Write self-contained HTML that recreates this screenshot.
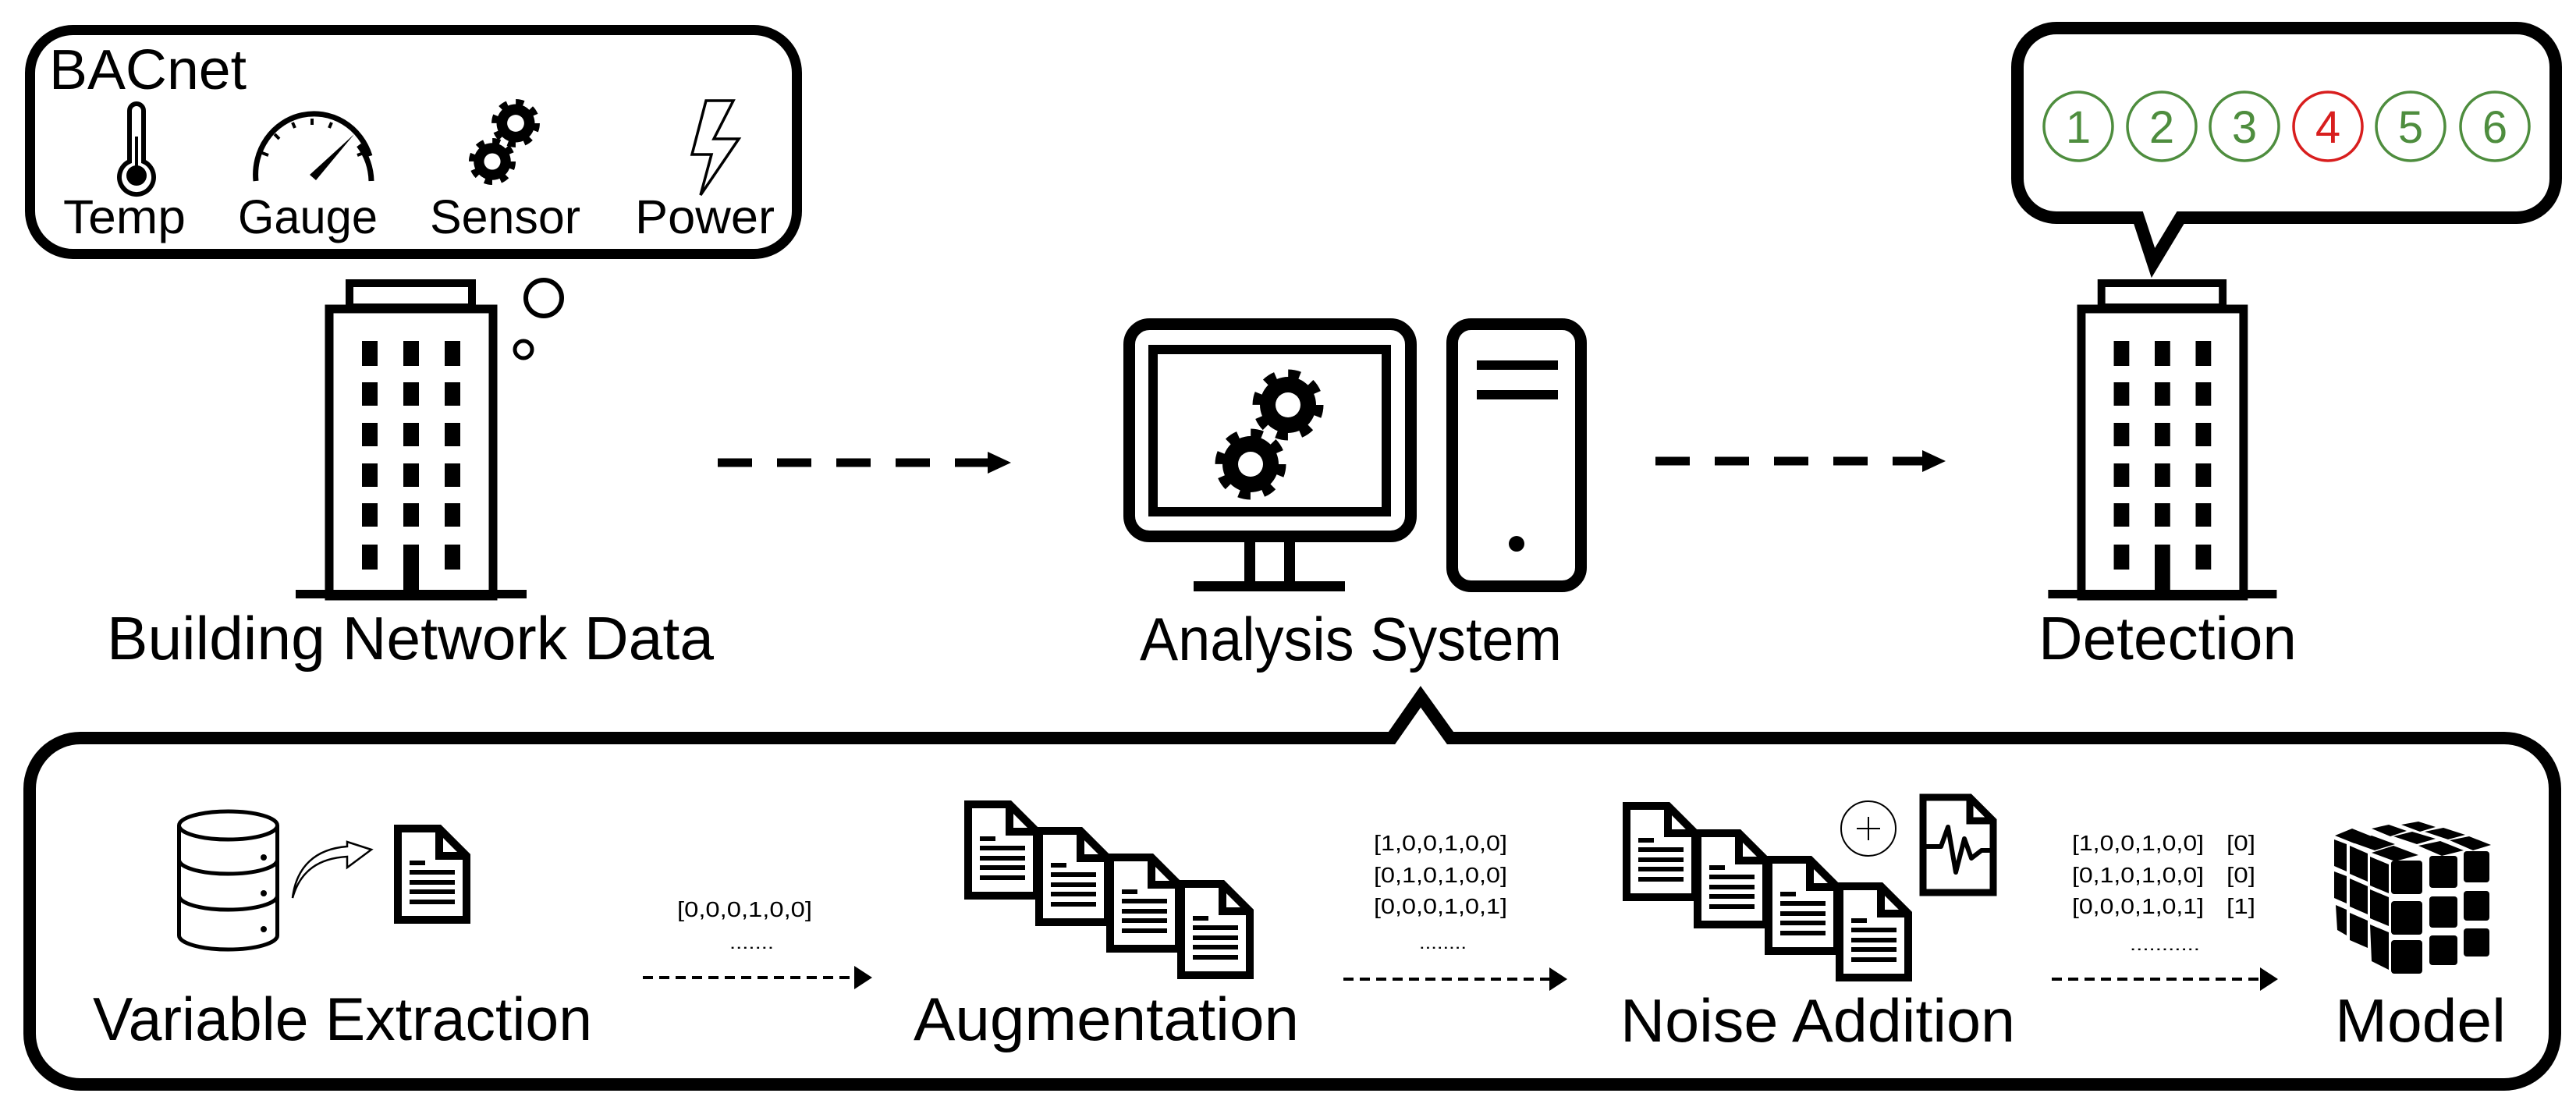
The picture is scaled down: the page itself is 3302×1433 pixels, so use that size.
<!DOCTYPE html>
<html><head><meta charset="utf-8"><style>
html,body{margin:0;padding:0;background:#fff;}
svg{display:block;}
text{font-family:"Liberation Sans",sans-serif;}
</style></head><body>
<svg width="3302" height="1433" viewBox="0 0 3302 1433" xmlns="http://www.w3.org/2000/svg">
<defs>
  <g id="doc">
    <path d="M5,5 H58 L93,40 V122 H5 Z" fill="#fff" stroke="#000" stroke-width="10" stroke-linejoin="miter"/>
    <path d="M58,5 V40 H93" fill="none" stroke="#000" stroke-width="10"/>
    <rect x="20" y="46" width="20" height="6"/>
    <rect x="20" y="58" width="58" height="6"/>
    <rect x="20" y="71" width="58" height="6"/>
    <rect x="20" y="83" width="58" height="6"/>
    <rect x="20" y="96" width="58" height="6"/>
  </g>
  <g id="bldg">
    <rect x="31" y="5" width="157" height="33" fill="none" stroke="#000" stroke-width="10"/>
    <rect x="5" y="38" width="210" height="368" fill="#fff" stroke="#000" stroke-width="11"/>
    <rect x="31" y="31" width="157" height="7" fill="#000"/>
    <rect x="-38" y="398" width="296" height="11"/>
    <g fill="#000">
      <rect x="47" y="79" width="20" height="32"/><rect x="100" y="79" width="20" height="32"/><rect x="153" y="79" width="20" height="32"/>
      <rect x="47" y="132" width="20" height="30"/><rect x="100" y="132" width="20" height="30"/><rect x="153" y="132" width="20" height="30"/>
      <rect x="47" y="184" width="20" height="30"/><rect x="100" y="184" width="20" height="30"/><rect x="153" y="184" width="20" height="30"/>
      <rect x="47" y="236" width="20" height="30"/><rect x="100" y="236" width="20" height="30"/><rect x="153" y="236" width="20" height="30"/>
      <rect x="47" y="287" width="20" height="30"/><rect x="100" y="287" width="20" height="30"/><rect x="153" y="287" width="20" height="30"/>
      <rect x="47" y="340" width="20" height="32"/><rect x="100" y="340" width="20" height="62"/><rect x="153" y="340" width="20" height="32"/>
    </g>
  </g>
  <g id="gear">
    <circle r="36" fill="#000"/>
    <circle r="40" fill="none" stroke="#000" stroke-width="11" stroke-dasharray="15 16.4"/>
    <circle r="16" fill="#fff"/>
  </g>
</defs>

<!-- BACnet box -->
<rect x="38.5" y="38.5" width="983" height="287" rx="55" fill="none" stroke="#000" stroke-width="13"/>
<text x="63" y="114" font-size="72" textLength="253" lengthAdjust="spacingAndGlyphs">BACnet</text>
<!-- thermometer -->
<path d="M166,207 V142 a9,9 0 0 1 18,0 V207 a22,22 0 1 1 -18,0 Z" fill="none" stroke="#000" stroke-width="6"/>
<circle cx="175" cy="225" r="13" fill="#000"/>
<rect x="173" y="175" width="4" height="45" fill="#000"/>
<!-- gauge -->
<path d="M328,232 A75,78 0 0 1 474,200" fill="none" stroke="#000" stroke-width="7"/>
<path d="M460,186 A75,78 0 0 1 476,232" fill="none" stroke="#000" stroke-width="7"/>
<g stroke="#000" stroke-width="4">
<line x1="336" y1="196" x2="344" y2="199"/><line x1="352" y1="172" x2="358" y2="178"/><line x1="375" y1="157" x2="378" y2="164"/><line x1="400" y1="152" x2="400" y2="160"/><line x1="425" y1="157" x2="422" y2="164"/><line x1="466" y1="196" x2="458" y2="199"/>
</g>
<path d="M454,172 L405,231 L397,224 Z" fill="#000"/>
<!-- gears small -->
<g transform="translate(661,158) scale(0.68)"><use href="#gear"/></g>
<g transform="translate(631,207) scale(0.66)"><use href="#gear"/></g>
<!-- lightning -->
<polygon points="905,129 940,129 915,178 947,178 898,250 912,198 887,198" fill="none" stroke="#000" stroke-width="3.5" stroke-linejoin="miter"/>
<text x="81" y="299" font-size="61" textLength="157" lengthAdjust="spacingAndGlyphs">Temp</text>
<text x="305" y="299" font-size="61" textLength="179" lengthAdjust="spacingAndGlyphs">Gauge</text>
<text x="551" y="299" font-size="61" textLength="193" lengthAdjust="spacingAndGlyphs">Sensor</text>
<text x="814" y="299" font-size="61" textLength="179" lengthAdjust="spacingAndGlyphs">Power</text>

<!-- left building -->
<g transform="translate(417,358)"><use href="#bldg"/></g>
<circle cx="697" cy="382" r="23" fill="none" stroke="#000" stroke-width="6"/>
<circle cx="671" cy="448" r="11" fill="none" stroke="#000" stroke-width="5"/>
<text x="137" y="845" font-size="78" textLength="778" lengthAdjust="spacingAndGlyphs">Building Network Data</text>

<!-- arrows top -->
<line x1="920" y1="593" x2="1270" y2="593" stroke="#000" stroke-width="11" stroke-dasharray="44 32"/>
<polygon points="1266,579 1296,593 1266,607" fill="#000"/>
<line x1="2122" y1="591" x2="2468" y2="591" stroke="#000" stroke-width="11" stroke-dasharray="44 32"/>
<polygon points="2464,577 2494,591 2464,605" fill="#000"/>

<!-- monitor -->
<rect x="1447.5" y="415.5" width="361" height="272" rx="26" fill="none" stroke="#000" stroke-width="15"/>
<rect x="1478" y="448" width="299" height="208" fill="none" stroke="#000" stroke-width="12"/>
<g transform="translate(1651,519)"><use href="#gear"/></g>
<g transform="translate(1603,595)"><use href="#gear"/></g>
<rect x="1595" y="695" width="14" height="52"/>
<rect x="1646" y="695" width="14" height="52"/>
<rect x="1530" y="745" width="194" height="13"/>
<!-- tower -->
<rect x="1861.5" y="415.5" width="165" height="336" rx="24" fill="none" stroke="#000" stroke-width="15"/>
<rect x="1893" y="462" width="104" height="12"/>
<rect x="1893" y="500" width="104" height="12"/>
<circle cx="1944" cy="697" r="10"/>
<text x="1461" y="846" font-size="78" textLength="541" lengthAdjust="spacingAndGlyphs">Analysis System</text>

<!-- detection bubble -->
<path d="M2636,36 H3226 A50,50 0 0 1 3276,86 V229 A50,50 0 0 1 3226,279 H2795 L2760,337 L2741,279 H2636 A50,50 0 0 1 2586,229 V86 A50,50 0 0 1 2636,36 Z" fill="none" stroke="#000" stroke-width="16" stroke-linejoin="miter"/>
<g fill="none" stroke-width="3.5">
<circle cx="2664" cy="162" r="44" stroke="#4e8d3e"/>
<circle cx="2771" cy="162" r="44" stroke="#4e8d3e"/>
<circle cx="2877" cy="162" r="44" stroke="#4e8d3e"/>
<circle cx="2984" cy="162" r="44" stroke="#d81e1e"/>
<circle cx="3090" cy="162" r="44" stroke="#4e8d3e"/>
<circle cx="3198" cy="162" r="44" stroke="#4e8d3e"/>
</g>
<g font-size="58" text-anchor="middle" fill="#4e8d3e">
<text x="2664" y="183">1</text><text x="2771" y="183">2</text><text x="2877" y="183">3</text>
<text x="2984" y="183" fill="#d81e1e">4</text><text x="3090" y="183">5</text><text x="3198" y="183">6</text>
</g>
<!-- right building -->
<g transform="translate(2663,358) scale(0.99,1)"><use href="#bldg"/></g>
<text x="2613" y="845" font-size="78" textLength="331" lengthAdjust="spacingAndGlyphs">Detection</text>

<!-- bottom box -->
<path d="M103,946 H1784 L1821,893 L1859,946 H3210 A65,65 0 0 1 3275,1011 V1325 A65,65 0 0 1 3210,1390 H103 A65,65 0 0 1 38,1325 V1011 A65,65 0 0 1 103,946 Z" fill="none" stroke="#000" stroke-width="16" stroke-linejoin="miter"/>

<!-- database -->
<g fill="none" stroke="#000" stroke-width="5">
<ellipse cx="292.5" cy="1058" rx="63" ry="18"/>
<path d="M229.5,1058 V1199 A63,18 0 0 0 355.5,1199 V1058"/>
<path d="M229.5,1102 A63,18 0 0 0 355.5,1102"/>
<path d="M229.5,1148 A63,18 0 0 0 355.5,1148"/>
</g>
<circle cx="338" cy="1099" r="4"/><circle cx="338" cy="1145" r="4"/><circle cx="338" cy="1191" r="4"/>
<!-- curved arrow -->
<path d="M375,1151 C385,1115 410,1100 445,1098 V1112 L476,1089 L445,1079 V1085 C405,1088 380,1110 375,1151 Z" fill="none" stroke="#000" stroke-width="2.5" stroke-linejoin="miter"/>
<g transform="translate(505,1057)"><use href="#doc"/></g>
<text x="868" y="1175" font-size="28" textLength="173" lengthAdjust="spacingAndGlyphs">[0,0,0,1,0,0]</text>
<text x="935" y="1216" font-size="22" textLength="57" lengthAdjust="spacingAndGlyphs">.......</text>
<line x1="824" y1="1253" x2="1100" y2="1253" stroke="#000" stroke-width="4" stroke-dasharray="13 8"/>
<polygon points="1095,1238 1118,1253 1095,1268" fill="#000"/>
<text x="119" y="1333" font-size="78" textLength="640" lengthAdjust="spacingAndGlyphs">Variable Extraction</text>

<!-- augmentation docs -->
<g transform="translate(1236,1026)"><use href="#doc"/></g>
<g transform="translate(1327,1060)"><use href="#doc"/></g>
<g transform="translate(1418,1094)"><use href="#doc"/></g>
<g transform="translate(1509,1128)"><use href="#doc"/></g>
<text x="1171" y="1333" font-size="78" textLength="494" lengthAdjust="spacingAndGlyphs">Augmentation</text>

<g font-size="28">
<text x="1761" y="1090" textLength="171" lengthAdjust="spacingAndGlyphs">[1,0,0,1,0,0]</text>
<text x="1761" y="1131" textLength="171" lengthAdjust="spacingAndGlyphs">[0,1,0,1,0,0]</text>
<text x="1761" y="1171" textLength="171" lengthAdjust="spacingAndGlyphs">[0,0,0,1,0,1]</text>
</g>
<text x="1819" y="1216" font-size="22" textLength="61" lengthAdjust="spacingAndGlyphs">........</text>
<line x1="1722" y1="1255" x2="1990" y2="1255" stroke="#000" stroke-width="4" stroke-dasharray="13 8"/>
<polygon points="1986,1240 2009,1255 1986,1270" fill="#000"/>

<!-- noise docs -->
<g transform="translate(2080,1028)"><use href="#doc"/></g>
<g transform="translate(2171,1063)"><use href="#doc"/></g>
<g transform="translate(2262,1097)"><use href="#doc"/></g>
<g transform="translate(2353,1131)"><use href="#doc"/></g>
<circle cx="2395" cy="1062" r="35" fill="none" stroke="#000" stroke-width="2"/>
<line x1="2380" y1="1062" x2="2410" y2="1062" stroke="#000" stroke-width="2"/>
<line x1="2395" y1="1047" x2="2395" y2="1077" stroke="#000" stroke-width="2"/>
<!-- waveform doc -->
<path d="M2465,1022 H2525 L2555,1052 V1144 H2465 Z" fill="#fff" stroke="#000" stroke-width="9"/>
<path d="M2525,1022 V1052 H2555" fill="none" stroke="#000" stroke-width="9"/>
<path d="M2465,1085 H2488 L2497,1060 L2507,1118 L2518,1075 L2527,1100 L2540,1090 H2555" fill="none" stroke="#000" stroke-width="6" stroke-linejoin="round"/>
<text x="2077" y="1335" font-size="78" textLength="506" lengthAdjust="spacingAndGlyphs">Noise Addition</text>

<g font-size="28">
<text x="2656" y="1090" textLength="169" lengthAdjust="spacingAndGlyphs">[1,0,0,1,0,0]</text>
<text x="2656" y="1131" textLength="169" lengthAdjust="spacingAndGlyphs">[0,1,0,1,0,0]</text>
<text x="2656" y="1171" textLength="169" lengthAdjust="spacingAndGlyphs">[0,0,0,1,0,1]</text>
<text x="2854" y="1090" textLength="37" lengthAdjust="spacingAndGlyphs">[0]</text>
<text x="2854" y="1131" textLength="37" lengthAdjust="spacingAndGlyphs">[0]</text>
<text x="2854" y="1171" textLength="37" lengthAdjust="spacingAndGlyphs">[1]</text>
</g>
<text x="2730" y="1218" font-size="22" textLength="90" lengthAdjust="spacingAndGlyphs">...........</text>
<line x1="2630" y1="1255" x2="2900" y2="1255" stroke="#000" stroke-width="4" stroke-dasharray="13 8"/>
<polygon points="2897,1240 2920,1255 2897,1270" fill="#000"/>

<!-- cube -->
<g fill="#000">
  <!-- top face -->
  <polygon points="2993,1071 3015,1062 3040,1072 3018,1081"/>
  <polygon points="3040,1062 3062,1057 3085,1065 3064,1072"/>
  <polygon points="3078,1057 3100,1053 3122,1060 3102,1066"/>
  <polygon points="3013,1079 3040,1071 3070,1082 3044,1090"/>
  <polygon points="3068,1072 3092,1066 3122,1075 3098,1082"/>
  <polygon points="3108,1066 3132,1061 3160,1070 3138,1076"/>
  <polygon points="3040,1093 3068,1084 3100,1096 3070,1104"/>
  <polygon points="3100,1084 3128,1078 3158,1090 3130,1097"/>
  <polygon points="3140,1077 3165,1072 3193,1083 3170,1090"/>
  <!-- left face -->
  <polygon points="2992,1076 3008,1082 3008,1117 2992,1110"/>
  <polygon points="3012,1084 3035,1094 3035,1130 3012,1120"/>
  <polygon points="3038,1098 3062,1108 3062,1145 3038,1135"/>
  <polygon points="2992,1117 3008,1123 3008,1158 2992,1151"/>
  <polygon points="3012,1126 3035,1136 3035,1172 3012,1162"/>
  <polygon points="3038,1140 3062,1150 3062,1187 3038,1177"/>
  <polygon points="2994,1160 3008,1166 3008,1199 2996,1192"/>
  <polygon points="3012,1170 3035,1180 3035,1215 3012,1205"/>
  <polygon points="3038,1185 3062,1195 3062,1243 3040,1232"/>
  <!-- front face -->
  <rect x="3065" y="1103" width="40" height="43" rx="4"/>
  <rect x="3114" y="1097" width="36" height="41" rx="4"/>
  <rect x="3158" y="1091" width="33" height="40" rx="4"/>
  <rect x="3065" y="1155" width="40" height="43" rx="4"/>
  <rect x="3114" y="1149" width="36" height="40" rx="4"/>
  <rect x="3158" y="1142" width="33" height="38" rx="4"/>
  <rect x="3065" y="1205" width="40" height="43" rx="4"/>
  <rect x="3114" y="1199" width="36" height="38" rx="4"/>
  <rect x="3158" y="1190" width="33" height="36" rx="4"/>
</g>
<text x="2993" y="1335" font-size="78" textLength="219" lengthAdjust="spacingAndGlyphs">Model</text>
</svg>
</body></html>
